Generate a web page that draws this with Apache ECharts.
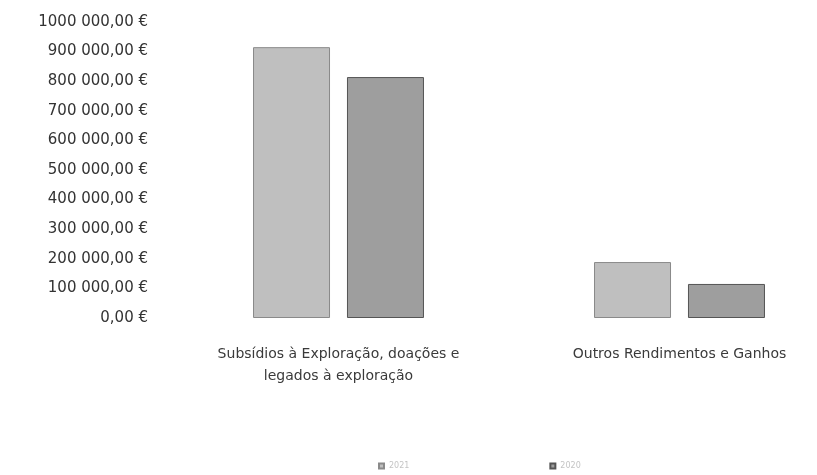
<!DOCTYPE html>
<html>
<head>
<meta charset="utf-8">
<script src="https://cdn.jsdelivr.net/npm/echarts@6/dist/echarts.min.js"></script>
<style>html,body{margin:0;padding:0;background:#fff}#chart{width:817px;height:475px}</style>
</head>
<body>
<div id="chart"></div>
<script>
// categorias e valores
var categorias = ['Subsídios à Exploração, doações e\nlegados à exploração', 'Outros Rendimentos e Ganhos'];
var anos = ['2021', '2020'];
var valores2021 = [915000, 189000];
var valores2020 = [814000, 115000];

var chart = echarts.init(document.getElementById('chart'));

function euro(v) {
  // 900000 -> "900 000,00 €"
  var s = String(Math.round(v));
  var out = s.replace(/\B(?=(\d{3})+(?!\d))/g, ' ');
  if (v === 1000000) out = '1000 000';
  return out + ',00 €';
}

var option = {
  animation: false,
  textStyle: { fontFamily: '"DejaVu Sans", sans-serif' },
  grid: { left: 168, width: 682, top: 22, bottom: 157, outerBoundsMode: 'none', containLabel: false },
  legend: {
    data: anos,
    icon: 'rect',
    bottom: 0,
    left: 373,
    itemWidth: 5,
    itemHeight: 5,
    itemGap: 140,
    textStyle: { fontSize: 8, color: '#c4c4c4' }
  },
  xAxis: {
    type: 'category',
    data: categorias,
    axisLine: { show: false },
    axisTick: { show: false },
    axisLabel: { fontSize: 14, color: '#3a3a3a', margin: 25, lineHeight: 22 }
  },
  yAxis: {
    type: 'value',
    min: 0,
    max: 1000000,
    interval: 100000,
    splitLine: { show: false },
    axisLine: { show: false },
    axisTick: { show: false },
    axisLabel: { fontSize: 15, color: '#333', margin: 20, formatter: euro }
  },
  series: [
    {
      name: '2021',
      type: 'bar',
      data: valores2021,
      barWidth: 77,
      barGap: '22%',
      itemStyle: { color: '#bfbfbf', borderColor: '#8a8a8a', borderWidth: 1 }
    },
    {
      name: '2020',
      type: 'bar',
      data: valores2020,
      barWidth: 77,
      itemStyle: { color: '#9e9e9e', borderColor: '#555', borderWidth: 1 }
    }
  ]
};

chart.setOption(option);
</script>
</body>
</html>
